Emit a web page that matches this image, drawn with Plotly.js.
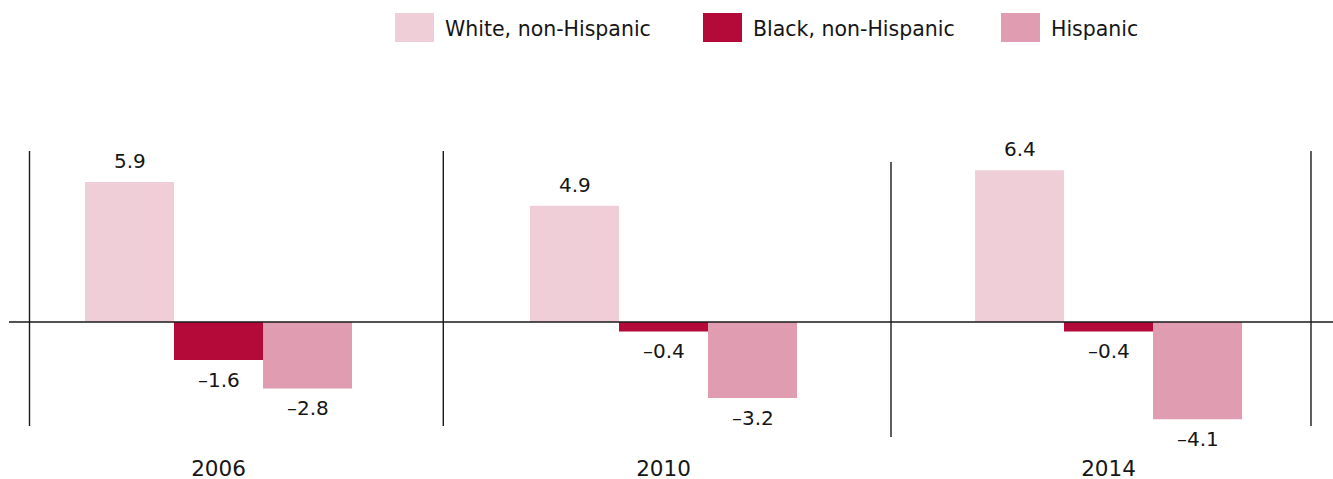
<!DOCTYPE html>
<html>
<head>
<meta charset="utf-8">
<script src="https://cdn.plot.ly/plotly-3.0.1.min.js"></script>
<style>
  html, body { margin: 0; padding: 0; background: #ffffff; }
  #chart { width: 1333px; height: 479px; }
</style>
</head>
<body>
<div id="chart"></div>
<script>
// ---- Data ----
const years = ['2006', '2010', '2014'];
const seriesNames = ['White, non-Hispanic', 'Black, non-Hispanic', 'Hispanic'];
const whiteValues = [5.9, 4.9, 6.4];
const blackValues = [-1.6, -0.4, -0.4];
const hispanicValues = [-2.8, -3.2, -4.1];

// ---- Style ----
const colors = ['#F0CED8', '#B40A3A', '#E09CB0'];
const FONT = 'DejaVu Sans, Verdana, sans-serif';
const TEXT_COLOR = '#161616';
const LINE_COLOR = '#1a1a1a';
const W = 1333, H = 479;
const MARGIN_B = 26;
const PLOT_H = H - MARGIN_B;       // plot area spans y = 0 .. PLOT_H
const ZERO_PX = 322;               // pixel row of value 0
const PX_PER_UNIT = 23.73;
const CAT_PX = 445;                // pixels between category centres
const FIRST_CAT_PX = 218.5;        // pixel column of first category centre
const BAR_PX = 89;

// pixel -> axis/paper helpers (layout only)
const xData = p => (p - FIRST_CAT_PX) / CAT_PX;
const yData = p => (ZERO_PX - p) / PX_PER_UNIT;
const xPaper = p => p / W;
const yPaper = p => (PLOT_H - p) / PLOT_H;

const fmt = v => (v < 0 ? '\u2013' + Math.abs(v).toFixed(1) : v.toFixed(1));

const allValues = [whiteValues, blackValues, hispanicValues];

const traces = allValues.map((vals, i) => ({
  type: 'bar',
  name: seriesNames[i],
  x: years,
  y: vals,
  marker: { color: colors[i], line: { width: 0 } },
  showlegend: false,
  hoverinfo: 'skip'
}));

// value labels (x given as category index so numeric-looking names are not misread)
const annotations = [];
allValues.forEach((vals, i) => {
  vals.forEach((v, j) => {
    annotations.push({
      x: j, y: v, xref: 'x', yref: 'y',
      text: fmt(v),
      showarrow: false,
      xanchor: 'center', yanchor: 'middle',
      xshift: (i - 1) * BAR_PX,
      yshift: v >= 0 ? 21 : -20,
      font: { family: FONT, size: 20, color: TEXT_COLOR }
    });
  });
});

// custom legend (large rectangular swatches)
const legendSwatchX = [395, 703, 1001];
const shapes = [];
seriesNames.forEach((name, i) => {
  shapes.push({
    type: 'rect', xref: 'paper', yref: 'paper',
    x0: xPaper(legendSwatchX[i]), x1: xPaper(legendSwatchX[i] + 39),
    y0: yPaper(42), y1: yPaper(13),
    fillcolor: colors[i], line: { width: 0 }
  });
  annotations.push({
    xref: 'paper', yref: 'paper',
    x: xPaper(legendSwatchX[i] + 48), y: yPaper(29),
    xanchor: 'left', yanchor: 'middle',
    text: name, showarrow: false,
    font: { family: FONT, size: 20.5, color: TEXT_COLOR }
  });
});

// zero line
shapes.push({
  type: 'line', xref: 'x', yref: 'y',
  x0: xData(9), x1: xData(1340), y0: 0, y1: 0,
  line: { color: LINE_COLOR, width: 1.6 }
});

// group separator lines
const seps = [[29.5, 151, 426], [443.3, 151, 426], [891, 162, 437], [1311, 151, 426]];
seps.forEach(s => {
  shapes.push({
    type: 'line', xref: 'x', yref: 'y',
    x0: xData(s[0]), x1: xData(s[0]), y0: yData(s[1]), y1: yData(s[2]),
    line: { color: LINE_COLOR, width: 1.4 }
  });
});

const layout = {
  width: W, height: H,
  margin: { l: 0, r: 0, t: 0, b: MARGIN_B, pad: 0 },
  paper_bgcolor: '#ffffff',
  plot_bgcolor: '#ffffff',
  barmode: 'group',
  bargap: 0.4,
  bargroupgap: 0,
  showlegend: false,
  hovermode: false,
  font: { family: FONT, color: TEXT_COLOR },
  xaxis: {
    type: 'category',
    range: [xData(0), xData(W)],
    showgrid: false, zeroline: false, showline: false,
    ticks: '',
    tickfont: { family: FONT, size: 21.5, color: TEXT_COLOR },
    fixedrange: true
  },
  yaxis: {
    range: [yData(PLOT_H), yData(0)],
    visible: false,
    showgrid: false, zeroline: false,
    fixedrange: true
  },
  shapes: shapes,
  annotations: annotations
};

Plotly.newPlot('chart', traces, layout, { displayModeBar: false, staticPlot: true });
</script>
</body>
</html>
